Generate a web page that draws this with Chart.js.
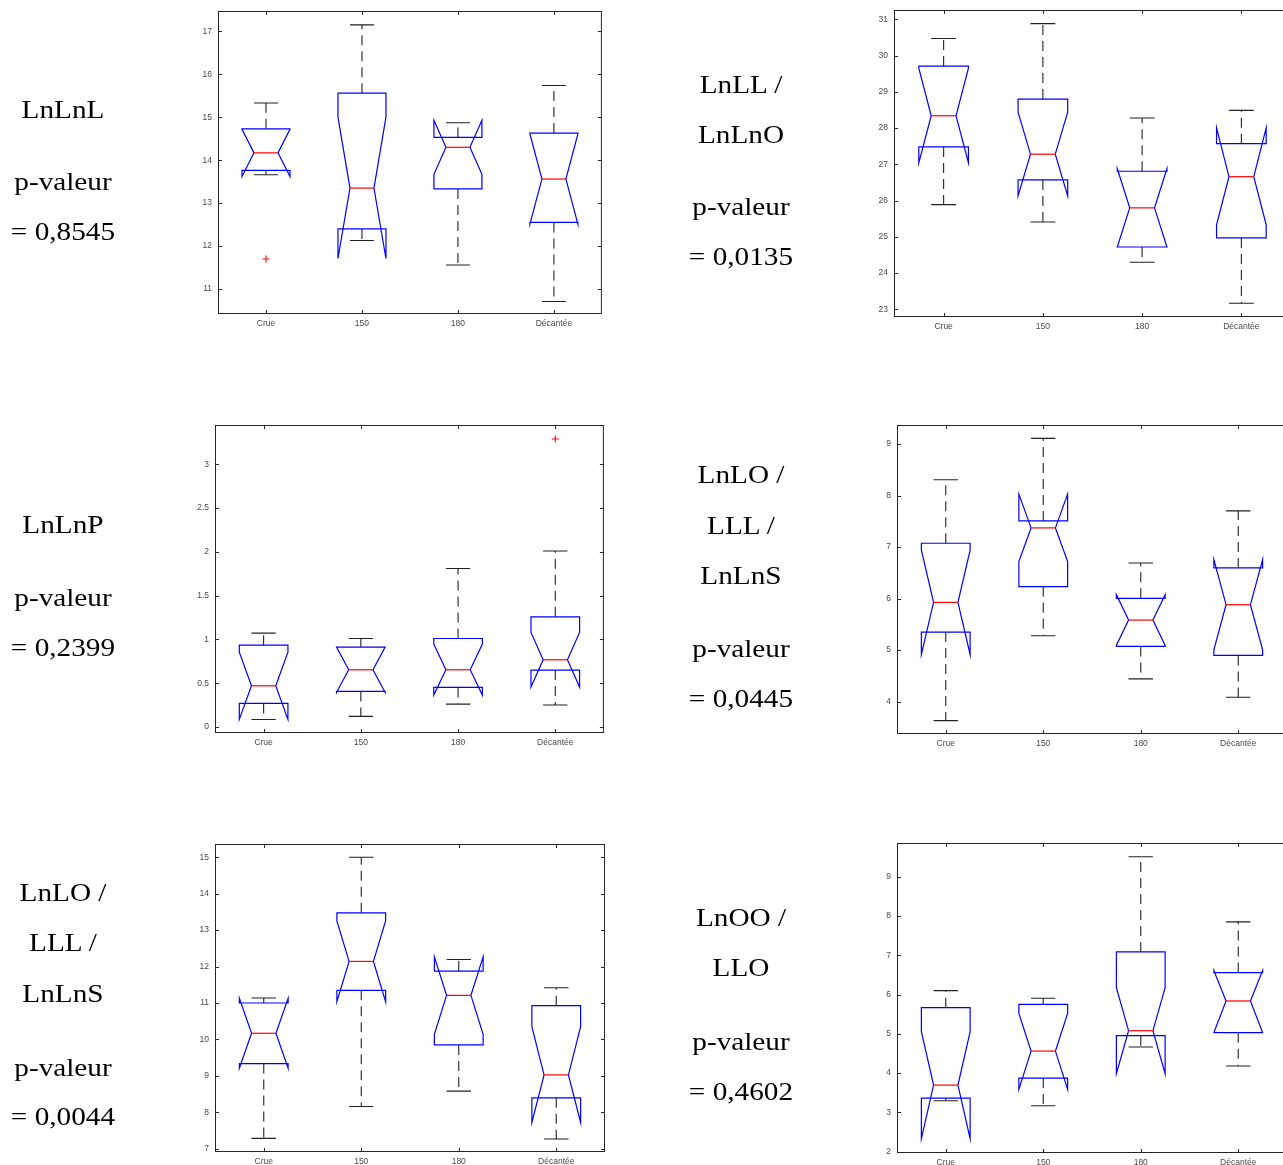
<!DOCTYPE html>
<html><head><meta charset="utf-8">
<script src="https://cdn.jsdelivr.net/npm/chart.js@4.4.0/dist/chart.umd.min.js"></script>
<style>
html,body{margin:0;padding:0;background:#fff;}
body{width:1283px;height:1165px;overflow:hidden;position:relative;}
.plot{position:absolute;}
.lbl{position:absolute;font-family:'Liberation Serif','Times New Roman',serif;font-size:25px;line-height:30px;height:30px;color:#000;white-space:nowrap;text-align:center;width:200px;transform:scaleX(1.17);}
</style></head><body>
<script>
// ---------- DATA ----------
const categories = ['Crue', '150', '180', 'Décantée'];

// Plot 1 : LnLnL
const lnlnlMin   = [13.66, 12.13, 11.56, 10.71];
const lnlnlQ1    = [13.76, 12.40, 13.33, 12.55];
const lnlnlMed   = [14.17, 13.35, 14.30, 13.56];
const lnlnlQ3    = [14.73, 15.56, 14.53, 14.63];
const lnlnlMax   = [15.33, 17.15, 14.87, 15.74];
const lnlnlNLo   = [13.62, 11.71, 13.67, 12.51];
const lnlnlNHi   = [14.72, 15.00, 14.93, 14.61];
const lnlnlOut   = [{x: 1, y: 11.70}];
const lnlnlTicks = [11, 12, 13, 14, 15, 16, 17];

// Plot 2 : LnLL / LnLnO
const lnllMin   = [25.89, 25.41, 24.30, 23.17];
const lnllQ1    = [27.48, 26.57, 24.72, 24.97];
const lnllMed   = [28.34, 27.28, 25.80, 26.66];
const lnllQ3    = [29.71, 28.80, 26.81, 27.57];
const lnllMax   = [30.47, 30.88, 28.28, 28.49];
const lnllNLo   = [27.04, 26.13, 24.72, 25.33];
const lnllNHi   = [29.65, 28.44, 26.88, 28.01];
const lnllOut   = [];
const lnllTicks = [23, 24, 25, 26, 27, 28, 29, 30, 31];

// Plot 3 : LnLnP
const lnlnpMin   = [0.087, 0.122, 0.262, 0.251];
const lnlnpQ1    = [0.270, 0.407, 0.452, 0.650];
const lnlnpMed   = [0.471, 0.654, 0.654, 0.768];
const lnlnpQ3    = [0.935, 0.913, 1.011, 1.259];
const lnlnpMax   = [1.072, 1.011, 1.810, 2.011];
const lnlnpNLo   = [0.087, 0.395, 0.365, 0.456];
const lnlnpNHi   = [0.855, 0.913, 0.947, 1.080];
const lnlnpOut   = [{x: 4, y: 3.289}];
const lnlnpTicks = [0, 0.5, 1, 1.5, 2, 2.5, 3];

// Plot 4 : LnLO / LLL / LnLnS (p = 0,0445)
const lnloAMin   = [3.630, 5.278, 4.441, 4.084];
const lnloAQ1    = [5.349, 6.231, 5.070, 4.895];
const lnloAMed   = [5.926, 7.372, 5.582, 5.881];
const lnloAQ3    = [7.074, 7.508, 6.004, 6.594];
const lnloAMax   = [8.306, 9.110, 6.691, 7.703];
const lnloANLo   = [4.914, 6.717, 5.089, 5.006];
const lnloANHi   = [6.938, 8.027, 6.075, 6.756];
const lnloAOut   = [];
const lnloATicks = [4, 5, 6, 7, 8, 9];

// Plot 5 : LnLO / LLL / LnLnS (p = 0,0044)
const lnloBMin   = [7.283, 8.160, 8.580, 7.265];
const lnloBQ1    = [9.338, 11.347, 9.849, 8.397];
const lnloBMed   = [10.169, 12.142, 11.210, 9.027];
const lnloBQ3    = [11.000, 13.475, 11.877, 10.927];
const lnloBMax   = [11.137, 15.000, 12.196, 11.420];
const lnloBNLo   = [9.210, 11.037, 10.142, 7.721];
const lnloBNHi   = [11.128, 13.256, 12.269, 10.352];
const lnloBOut   = [];
const lnloBTicks = [7, 8, 9, 10, 11, 12, 13, 14, 15];

// Plot 6 : LnOO / LLO
const lnooMin   = [3.294, 3.167, 4.663, 4.179];
const lnooQ1    = [3.362, 3.872, 4.952, 5.029];
const lnooMed   = [3.694, 4.561, 5.080, 5.837];
const lnooQ3    = [5.667, 5.752, 7.087, 6.560];
const lnooMax   = [6.100, 5.905, 9.510, 7.852];
const lnooNLo   = [2.333, 3.583, 3.983, 5.030];
const lnooNHi   = [5.054, 5.522, 6.177, 6.611];
const lnooOut   = [];
const lnooTicks = [2, 3, 4, 5, 6, 7, 8, 9];

// Text labels
const textCol1 = [
  ['LnLnL', 110], ['p-valeur', 182], ['= 0,8545', 232],
  ['LnLnP', 525], ['p-valeur', 598], ['= 0,2399', 648],
  ['LnLO /', 893], ['LLL /', 943], ['LnLnS', 994], ['p-valeur', 1068], ['= 0,0044', 1117]
];
const textCol2 = [
  ['LnLL /', 85], ['LnLnO', 135], ['p-valeur', 207], ['= 0,0135', 257],
  ['LnLO /', 475], ['LLL /', 526], ['LnLnS', 576], ['p-valeur', 649], ['= 0,0445', 699],
  ['LnOO /', 918], ['LLO', 968], ['p-valeur', 1042], ['= 0,4602', 1092]
];

// ---------- LAYOUT ----------
const plots = [
  {frame: {l: 218, r: 603, t: 11, b: 314},  yMin: 10.418, yMax: 17.473, ticks: lnlnlTicks,
   s: {min: lnlnlMin, q1: lnlnlQ1, med: lnlnlMed, q3: lnlnlQ3, max: lnlnlMax, nlo: lnlnlNLo, nhi: lnlnlNHi}, out: lnlnlOut},
  {frame: {l: 894, r: 1291, t: 10, b: 317},  yMin: 22.79, yMax: 31.257, ticks: lnllTicks,
   s: {min: lnllMin, q1: lnllQ1, med: lnllMed, q3: lnllQ3, max: lnllMax, nlo: lnllNLo, nhi: lnllNHi}, out: lnllOut},
  {frame: {l: 215, r: 605, t: 425, b: 733}, yMin: -0.068, yMax: 3.449, ticks: lnlnpTicks,
   s: {min: lnlnpMin, q1: lnlnpQ1, med: lnlnpMed, q3: lnlnpQ3, max: lnlnpMax, nlo: lnlnpNLo, nhi: lnlnpNHi}, out: lnlnpOut},
  {frame: {l: 897, r: 1287, t: 425, b: 734}, yMin: 3.37, yMax: 9.37, ticks: lnloATicks,
   s: {min: lnloAMin, q1: lnloAQ1, med: lnloAMed, q3: lnloAQ3, max: lnloAMax, nlo: lnloANLo, nhi: lnloANHi}, out: lnloAOut},
  {frame: {l: 215, r: 605, t: 844, b: 1152}, yMin: 6.91, yMax: 15.365, ticks: lnloBTicks,
   s: {min: lnloBMin, q1: lnloBQ1, med: lnloBMed, q3: lnloBQ3, max: lnloBMax, nlo: lnloBNLo, nhi: lnloBNHi}, out: lnloBOut},
  {frame: {l: 897, r: 1287, t: 843, b: 1153}, yMin: 1.965, yMax: 9.86, ticks: lnooTicks,
   s: {min: lnooMin, q1: lnooQ1, med: lnooMed, q3: lnooQ3, max: lnooMax, nlo: lnooNLo, nhi: lnooNHi}, out: lnooOut}
];

const PAD_L = 40, PAD_B = 22, PAD_T = 8, PAD_R = 4, TICK = 4;
const tickFont = {family: "'Liberation Sans', Arial, sans-serif", size: 8.5};
const tickColor = '#4a4a4a';

function makeBoxPlugin(s) {
  return {
    id: 'notchBox',
    beforeDatasetsDraw(chart) {
      const ctx = chart.ctx, a = chart.chartArea, xs = chart.scales.x, ys = chart.scales.y;
      ctx.save();
      // frame
      ctx.strokeStyle = '#262626';
      ctx.lineWidth = 1;
      ctx.strokeRect(a.left + 0.5, a.top + 0.5, a.right - a.left - 1, a.bottom - a.top - 1);
      // inward ticks on all four sides
      ctx.beginPath();
      xs.ticks.forEach(t => {
        const px = Math.round(xs.getPixelForValue(t.value)) + 0.5;
        ctx.moveTo(px, a.bottom); ctx.lineTo(px, a.bottom - TICK);
        ctx.moveTo(px, a.top); ctx.lineTo(px, a.top + TICK);
      });
      ys.ticks.forEach(t => {
        const py = Math.round(ys.getPixelForValue(t.value)) + 0.5;
        ctx.moveTo(a.left, py); ctx.lineTo(a.left + TICK, py);
        ctx.moveTo(a.right, py); ctx.lineTo(a.right - TICK, py);
      });
      ctx.stroke();

      const hw = xs.getPixelForValue(1.25) - xs.getPixelForValue(1);
      const nw = hw / 2, cw = hw / 2;
      const Y = v => ys.getPixelForValue(v);
      for (let i = 0; i < s.med.length; i++) {
        const cx = xs.getPixelForValue(i + 1);
        // whiskers (dashed)
        ctx.strokeStyle = '#222';
        ctx.lineWidth = 1.1;
        ctx.setLineDash([10, 6]);
        ctx.beginPath();
        ctx.moveTo(cx, Y(s.q3[i])); ctx.lineTo(cx, Y(s.max[i]));
        ctx.moveTo(cx, Y(s.q1[i])); ctx.lineTo(cx, Y(s.min[i]));
        ctx.stroke();
        ctx.setLineDash([]);
        // caps
        ctx.beginPath();
        ctx.moveTo(cx - cw, Y(s.max[i])); ctx.lineTo(cx + cw, Y(s.max[i]));
        ctx.moveTo(cx - cw, Y(s.min[i])); ctx.lineTo(cx + cw, Y(s.min[i]));
        ctx.stroke();
        // notched box
        ctx.strokeStyle = '#0000ff';
        ctx.lineWidth = 1.2;
        ctx.beginPath();
        ctx.moveTo(cx - hw, Y(s.q1[i]));
        ctx.lineTo(cx - hw, Y(s.nlo[i]));
        ctx.lineTo(cx - nw, Y(s.med[i]));
        ctx.lineTo(cx - hw, Y(s.nhi[i]));
        ctx.lineTo(cx - hw, Y(s.q3[i]));
        ctx.lineTo(cx + hw, Y(s.q3[i]));
        ctx.lineTo(cx + hw, Y(s.nhi[i]));
        ctx.lineTo(cx + nw, Y(s.med[i]));
        ctx.lineTo(cx + hw, Y(s.nlo[i]));
        ctx.lineTo(cx + hw, Y(s.q1[i]));
        ctx.closePath();
        ctx.stroke();
        // median
        ctx.strokeStyle = '#ff0000';
        ctx.beginPath();
        ctx.moveTo(cx - nw, Y(s.med[i])); ctx.lineTo(cx + nw, Y(s.med[i]));
        ctx.stroke();
      }
      ctx.restore();
    }
  };
}

function zeroPad(sc) { sc.paddingTop = 0; sc.paddingBottom = 0; sc.paddingLeft = 0; sc.paddingRight = 0; }

plots.forEach(p => {
  const f = p.frame;
  const w = (f.r - f.l) + PAD_L + PAD_R;
  const h = (f.b - f.t) + PAD_T + PAD_B;
  const div = document.createElement('div');
  div.className = 'plot';
  div.style.left = (f.l - PAD_L) + 'px';
  div.style.top = (f.t - PAD_T) + 'px';
  div.style.width = w + 'px';
  div.style.height = h + 'px';
  const c = document.createElement('canvas');
  c.width = w; c.height = h;
  c.style.width = w + 'px'; c.style.height = h + 'px';
  div.appendChild(c);
  document.body.appendChild(div);

  new Chart(c, {
    type: 'scatter',
    data: {datasets: [{
      data: p.out,
      pointStyle: 'cross',
      pointRadius: 3.5,
      pointBorderWidth: 1.1,
      borderColor: '#ff0000',
      backgroundColor: '#ff0000'
    }]},
    options: {
      responsive: false,
      animation: false,
      devicePixelRatio: 1,
      events: [],
      layout: {padding: {left: 0, right: PAD_R, top: PAD_T, bottom: 0}},
      plugins: {legend: {display: false}, tooltip: {enabled: false}},
      scales: {
        x: {
          type: 'linear', min: 0.5, max: 4.5,
          afterBuildTicks: sc => { sc.ticks = categories.map((_, i) => ({value: i + 1})); },
          afterFit: sc => { sc.height = PAD_B; zeroPad(sc); },
          ticks: {callback: v => categories[v - 1] || '', font: tickFont, color: tickColor, padding: 5, maxRotation: 0, autoSkip: false},
          grid: {display: false, drawTicks: false},
          border: {display: false}
        },
        y: {
          type: 'linear', min: p.yMin, max: p.yMax,
          afterBuildTicks: sc => { sc.ticks = p.ticks.map(v => ({value: v})); },
          afterFit: sc => { sc.width = PAD_L; zeroPad(sc); },
          ticks: {callback: v => String(v), font: tickFont, color: tickColor, padding: 6, autoSkip: false},
          grid: {display: false, drawTicks: false},
          border: {display: false}
        }
      }
    },
    plugins: [makeBoxPlugin(p.s)]
  });
});

// text labels
function addText(list, cx) {
  list.forEach(([t, cy]) => {
    const d = document.createElement('div');
    d.className = 'lbl';
    d.textContent = t;
    d.style.left = (cx - 100) + 'px';
    d.style.top = (cy - 15) + 'px';
    document.body.appendChild(d);
  });
}
addText(textCol1, 63);
addText(textCol2, 741);
</script>
</body></html>
